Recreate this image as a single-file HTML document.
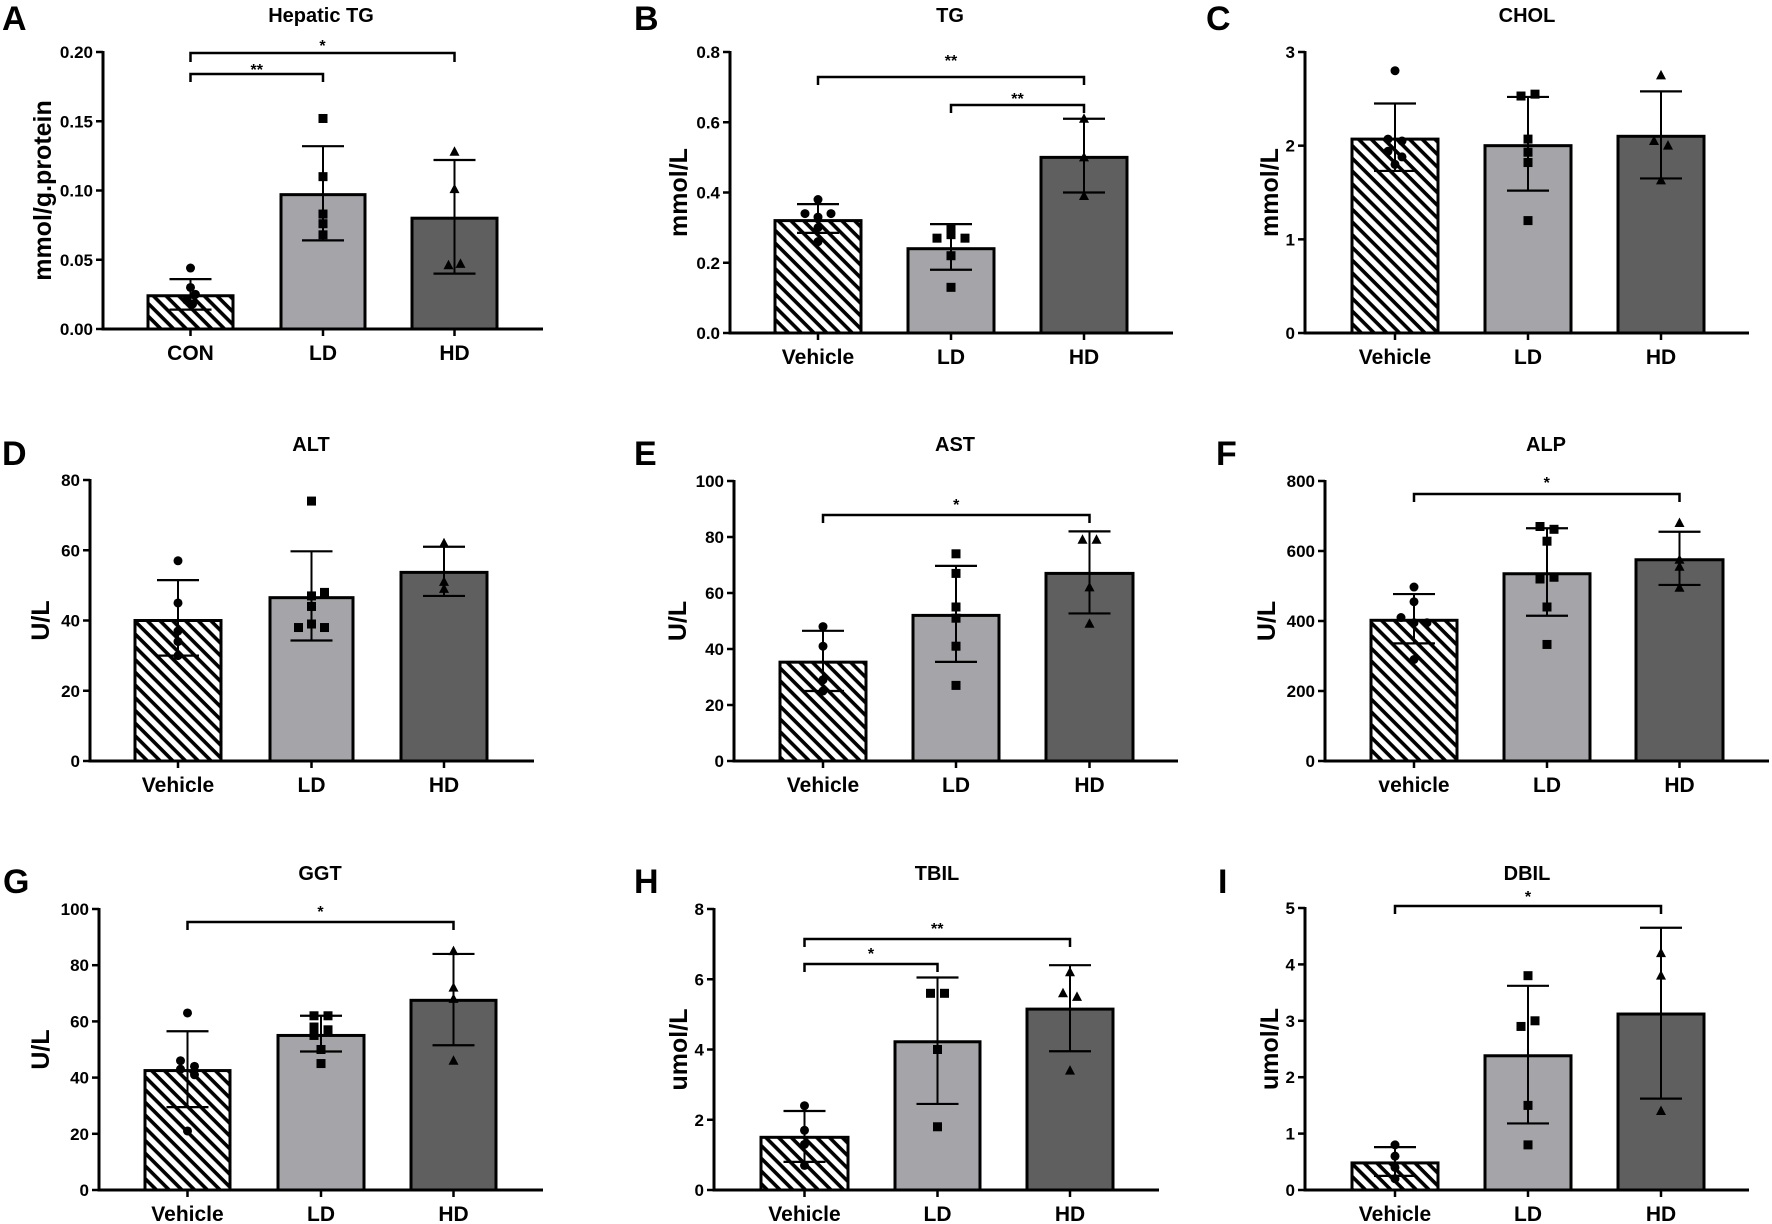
<!DOCTYPE html>
<html><head><meta charset="utf-8"><style>
html,body{margin:0;padding:0;background:#fff;}
svg{display:block;}
text{font-family:"Liberation Sans",Arial,sans-serif;font-weight:bold;fill:#000;}
</style></head><body>
<svg id="s" width="1772" height="1224" viewBox="0 0 1772 1224" xmlns="http://www.w3.org/2000/svg">
<defs>
<pattern id="hatch" patternUnits="userSpaceOnUse" width="9" height="9" patternTransform="rotate(45)">
<rect width="9" height="9" fill="#fff"/>
<rect x="0" y="0" width="9" height="3.6" fill="#000"/>
</pattern>
</defs>
</svg>
<script>
const P=[
{L:'A',lx:2,ly:30,title:'Hepatic TG',tx:321,ty:22,ax:103,ar:543,top:52,y0:329,ymax:0.2,step:0.05,dec:2,yl:'mmol/g.protein',ylx:42,
 xl:['CON','LD','HD'],xly:360,bars:[[148,233],[281,365],[412,497]],
 d:[[0.024,0.036,0.014,[[0,.044],[0,.030],[5,.025],[-4,.021],[2,.018]],'c'],
    [0.097,0.132,0.064,[[0,.152],[0,.110],[0,.083],[0,.076],[0,.068]],'s'],
    [0.080,0.122,0.040,[[0,.128],[0,.101],[-6,.046],[6,.047]],'t']],
 br:[[0,1,74,82,67,'**'],[0,2,53,62,43,'*']]},
{L:'B',lx:634,ly:30,title:'TG',tx:950,ty:22,ax:730,ar:1173,top:52,y0:333,ymax:0.8,step:0.2,dec:1,yl:'mmol/L',ylx:678,
 xl:['Vehicle','LD','HD'],xly:364,bars:[[775,861],[908,994],[1041,1127]],
 d:[[0.32,0.367,0.285,[[0,.38],[-13,.34],[13,.34],[0,.33],[0,.30],[0,.26]],'c'],
    [0.24,0.31,0.18,[[0,.30],[-14,.27],[14,.27],[0,.28],[0,.22],[0,.13]],'s'],
    [0.50,0.61,0.40,[[0,.61],[0,.50],[0,.39]],'t']],
 br:[[0,2,77,85,58,'**'],[1,2,105,113,96,'**']]},
{L:'C',lx:1206,ly:30,title:'CHOL',tx:1527,ty:22,ax:1305,ar:1749,top:52,y0:333,ymax:3,step:1,dec:0,yl:'mmol/L',ylx:1269,
 xl:['Vehicle','LD','HD'],xly:364,bars:[[1352,1438],[1485,1571],[1618,1704]],
 d:[[2.07,2.45,1.73,[[0,2.8],[-7,2.07],[7,2.05],[-7,1.94],[7,1.88],[0,1.80]],'c'],
    [2.0,2.52,1.52,[[-7,2.53],[7,2.55],[0,2.07],[0,1.93],[0,1.82],[0,1.2]],'s'],
    [2.1,2.58,1.65,[[0,2.75],[-7,2.05],[7,2.0],[0,1.63]],'t']],
 br:[]},
{L:'D',lx:2,ly:465,title:'ALT',tx:311,ty:451,ax:90,ar:534,top:480,y0:761,ymax:80,step:20,dec:0,yl:'U/L',ylx:40,
 xl:['Vehicle','LD','HD'],xly:792,bars:[[135,221],[270,353],[401,487]],
 d:[[40,51.5,30,[[0,57],[0,45],[0,37],[0,34],[0,30]],'c'],
    [46.5,59.7,34.3,[[0,74],[0,47],[13,48],[0,44],[0,39],[-13,38],[13,38]],'s'],
    [53.7,61,47,[[0,62],[0,51],[0,49]],'t']],
 br:[]},
{L:'E',lx:634,ly:465,title:'AST',tx:955,ty:451,ax:734,ar:1178,top:481,y0:761,ymax:100,step:20,dec:0,yl:'U/L',ylx:677,
 xl:['Vehicle','LD','HD'],xly:792,bars:[[780,866],[913,999],[1046,1133]],
 d:[[35.3,46.5,25,[[0,48],[0,41],[0,29],[0,25]],'c'],
    [52,69.7,35.4,[[0,74],[0,67],[0,55],[0,51],[0,41],[0,27]],'s'],
    [67,82,52.7,[[-7,79],[7,79],[0,62],[0,49]],'t']],
 br:[[0,2,515,523,502,'*']]},
{L:'F',lx:1216,ly:465,title:'ALP',tx:1546,ty:451,ax:1325,ar:1769,top:481,y0:761,ymax:800,step:200,dec:0,yl:'U/L',ylx:1266,
 xl:['vehicle','LD','HD'],xly:792,bars:[[1371,1457],[1504,1590],[1636,1723]],
 d:[[402,477,336,[[0,497],[0,455],[-13,410],[0,395],[13,395],[0,290]],'c'],
    [535,665,415,[[-7,670],[7,662],[0,628],[-7,520],[7,525],[0,440],[0,333]],'s'],
    [575,655,503,[[0,680],[0,575],[0,555],[0,495]],'t']],
 br:[[0,2,494,502,480,'*']]},
{L:'G',lx:3,ly:893,title:'GGT',tx:320,ty:880,ax:99,ar:543,top:909,y0:1190,ymax:100,step:20,dec:0,yl:'U/L',ylx:40,
 xl:['Vehicle','LD','HD'],xly:1221,bars:[[145,230],[278,364],[411,496]],
 d:[[42.5,56.5,29.5,[[0,63],[-7,46],[7,44],[-7,43],[7,41],[0,21]],'c'],
    [55,62,49.3,[[-7,62],[7,62],[-7,58],[7,57],[-7,55],[0,50],[0,45]],'s'],
    [67.5,84,51.5,[[0,85],[0,72],[0,68],[0,46]],'t']],
 br:[[0,2,922,930,909,'*']]},
{L:'H',lx:634,ly:893,title:'TBIL',tx:937,ty:880,ax:714,ar:1159,top:909,y0:1190,ymax:8,step:2,dec:0,yl:'umol/L',ylx:678,
 xl:['Vehicle','LD','HD'],xly:1221,bars:[[761,848],[895,980],[1027,1113]],
 d:[[1.5,2.25,0.8,[[0,2.4],[0,1.7],[0,1.3],[0,0.7]],'c'],
    [4.22,6.05,2.45,[[-7,5.6],[7,5.6],[0,4.0],[0,1.8]],'s'],
    [5.15,6.4,3.95,[[0,6.2],[-7,5.6],[7,5.5],[0,3.4]],'t']],
 br:[[0,2,939,947,926,'**'],[0,1,964,972,951,'*']]},
{L:'I',lx:1218,ly:893,title:'DBIL',tx:1527,ty:880,ax:1305,ar:1749,top:908,y0:1190,ymax:5,step:1,dec:0,yl:'umol/L',ylx:1269,
 xl:['Vehicle','LD','HD'],xly:1221,bars:[[1352,1438],[1485,1571],[1618,1704]],
 d:[[0.48,0.76,0.25,[[0,0.8],[0,0.6],[0,0.4],[0,0.2]],'c'],
    [2.38,3.62,1.18,[[0,3.8],[-7,2.9],[7,3.0],[0,1.5],[0,0.8]],'s'],
    [3.12,4.65,1.62,[[0,4.2],[0,3.8],[0,1.4]],'t']],
 br:[[0,2,906,914,894,'*']]}
];
const fills=['url(#hatch)','#a5a4a9','#5f5f5f'];
let h='';
function ln(x1,y1,x2,y2,w){h+=`<line x1="${x1}" y1="${y1}" x2="${x2}" y2="${y2}" stroke="#000" stroke-width="${w}"/>`;}
function tx(x,y,s,sz,anc,extra){h+=`<text x="${x}" y="${y}" font-size="${sz}" text-anchor="${anc||'middle'}" ${extra||''}>${s}</text>`;}
for(const p of P){
  const Y=v=>p.y0-(v/p.ymax)*(p.y0-p.top);
  const cx=p.bars.map(b=>(b[0]+b[1])/2);
  tx(p.lx,p.ly,p.L,34,'start');
  tx(p.tx,p.ty,p.title,20);
  // bars
  p.d.forEach((d,i)=>{const b=p.bars[i];const yt=Y(d[0]);
    h+=`<rect x="${b[0]}" y="${yt}" width="${b[1]-b[0]}" height="${p.y0-yt}" fill="${fills[i]}" stroke="#000" stroke-width="3"/>`;});
  // error bars & points
  p.d.forEach((d,i)=>{const c=cx[i];
    ln(c,Y(d[1]),c,Y(d[2]),2);ln(c-21,Y(d[1]),c+21,Y(d[1]),2.2);ln(c-21,Y(d[2]),c+21,Y(d[2]),2.2);
    for(const pt of d[3]){const x=c+pt[0],y=Y(pt[1]);
      if(d[4]=='c')h+=`<circle cx="${x}" cy="${y}" r="4.5" fill="#000"/>`;
      else if(d[4]=='s')h+=`<rect x="${x-4.5}" y="${y-4.5}" width="9" height="9" fill="#000"/>`;
      else h+=`<polygon points="${x},${y-5.5} ${x+5},${y+4} ${x-5},${y+4}" fill="#000"/>`;}
  });
  // axes
  ln(p.ax,p.top-1,p.ax,p.y0+1.5,3);
  ln(p.ax-1.5,p.y0,p.ar,p.y0,3);
  const n=Math.round(p.ymax/p.step);
  for(let k=0;k<=n;k++){const v=k*p.step,y=Y(v);ln(p.ax-7,y,p.ax,y,2.5);
    tx(p.ax-10,y+6,v.toFixed(p.dec),17,'end');}
  cx.forEach((c,i)=>{ln(c,p.y0,c,p.y0+7,2.5);tx(c,p.xly,p.xl[i],21);});
  // y label
  const yc=(p.top+p.y0)/2;
  h+=`<text x="0" y="0" font-size="25" text-anchor="middle" transform="translate(${p.ylx+9},${yc}) rotate(-90)">${p.yl}</text>`;
  // brackets
  for(const b of p.br){const x1=cx[b[0]],x2=cx[b[1]];
    h+=`<polyline points="${x1},${b[3]} ${x1},${b[2]} ${x2},${b[2]} ${x2},${b[3]}" fill="none" stroke="#000" stroke-width="2.5"/>`;
    tx((x1+x2)/2,b[4]+8,b[5],16);}
}
document.getElementById('s').insertAdjacentHTML('beforeend',h);
</script>
</body></html>
